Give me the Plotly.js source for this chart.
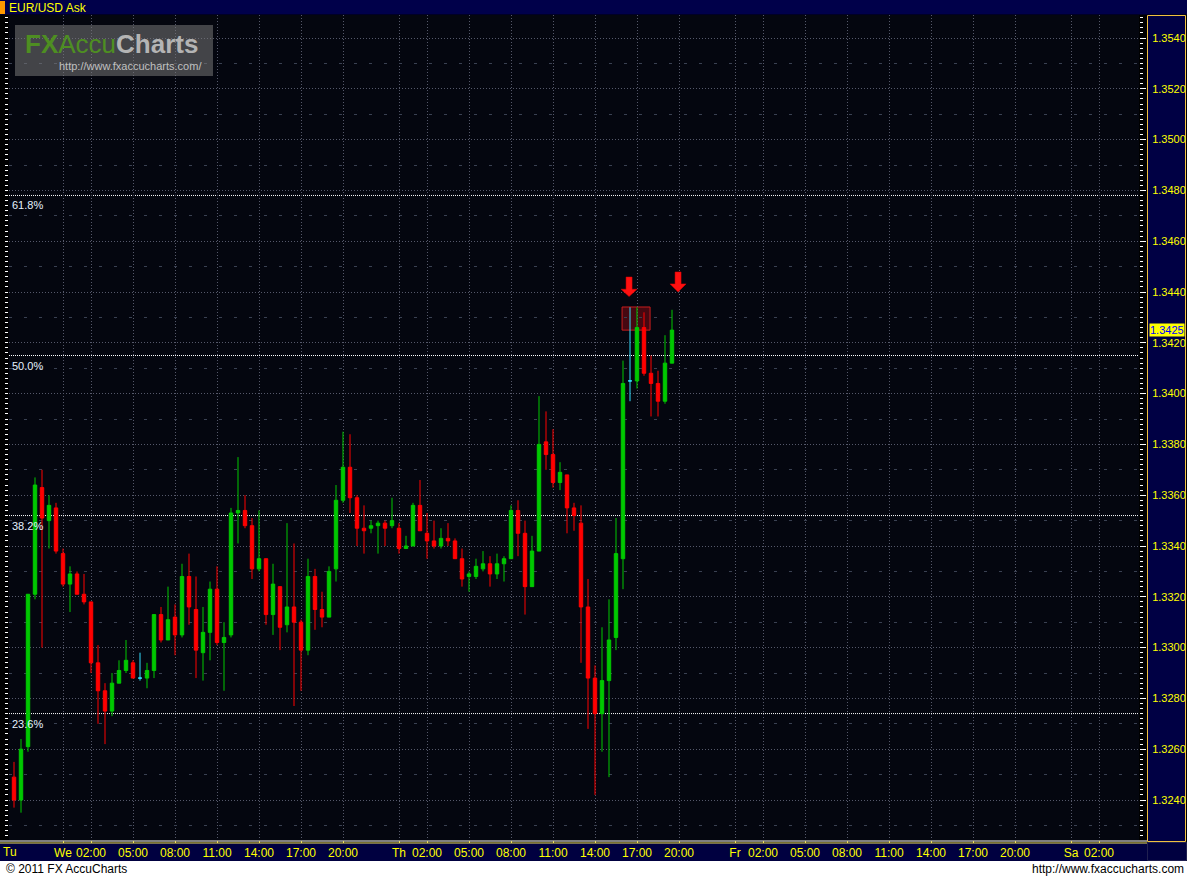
<!DOCTYPE html>
<html><head><meta charset="utf-8">
<script src="https://cdn.plot.ly/plotly-3.0.1.min.js"></script>
<style>html,body{margin:0;padding:0;background:#000;overflow:hidden}#chart{width:1187px;height:878px}</style>
</head><body><div id="chart"></div>
<script>
// ---- data (30-minute EUR/USD Ask candles) ----
const startTime = Date.UTC(2011, 10, 29, 20, 30); // Tu 20:30
const barMinutes = 30;
const opens  = [1.3249,1.3240,1.3261,1.3321,1.3363,1.3350,1.3355,1.3337,1.3325,1.3329,
                1.3321,1.3318,1.3294,1.3283,1.3275,1.3286,1.3291,1.3294,1.3288,1.3288,
                1.3291,1.3313,1.3303,1.3312,1.3305,1.3328,1.3315,1.3298,1.3306,1.3323,
                1.3302,1.3305,1.3353,1.3354,1.3348,1.3331,1.3335,1.3313,1.3324,1.3309,
                1.3316,1.3310,1.3299,1.3328,1.3315,1.3312,1.3331,1.3358,1.3371,1.3359,
                1.3347,1.3347,1.3348,1.3349,1.3348,1.3347,1.3339,1.3340,1.3356,1.3345,
                1.3342,1.3340,1.3343,1.3342,1.3335,1.3328,1.3328,1.3331,1.3333,1.3329,
                1.3333,1.3335,1.3354,1.3345,1.3324,1.3338,1.3381,1.3376,1.3365,1.3368,
                1.3355,1.3349,1.3316,1.3288,1.3274,1.3287,1.3304,1.3335,1.3405,1.3405,
                1.3426,1.3408,1.3404,1.3397,1.3412];
const highs  = [1.3255,1.3264,1.3321,1.3367,1.3370,1.3360,1.3357,1.3339,1.3332,1.3330,
                1.3329,1.3318,1.3301,1.3286,1.3290,1.3295,1.3303,1.3295,1.3298,1.3294,
                1.3313,1.3316,1.3324,1.3317,1.3333,1.3337,1.3328,1.3316,1.3326,1.3332,
                1.3310,1.3355,1.3375,1.3360,1.3351,1.3354,1.3335,1.3333,1.3324,1.3349,
                1.3341,1.3311,1.3335,1.3331,1.3322,1.3332,1.3364,1.3385,1.3384,1.3360,
                1.3356,1.3350,1.3350,1.3350,1.3359,1.3349,1.3344,1.3357,1.3366,1.3353,
                1.3350,1.3347,1.3349,1.3343,1.3339,1.3330,1.3335,1.3338,1.3336,1.3337,
                1.3336,1.3356,1.3358,1.3350,1.3344,1.3399,1.3393,1.3386,1.3373,1.3368,
                1.3357,1.3356,1.3327,1.3293,1.3308,1.3319,1.3351,1.3413,1.3434,1.3434,
                1.3432,1.3415,1.3409,1.3423,1.3433];
const lows   = [1.3237,1.3235,1.3259,1.3319,1.3300,1.3339,1.3337,1.3324,1.3314,1.3321,
                1.3317,1.3290,1.3270,1.3262,1.3273,1.3286,1.3290,1.3288,1.3287,1.3284,
                1.3288,1.3302,1.3303,1.3297,1.3304,1.3309,1.3288,1.3287,1.3295,1.3301,
                1.3283,1.3304,1.3341,1.3347,1.3327,1.3330,1.3309,1.3305,1.3299,1.3306,
                1.3277,1.3283,1.3297,1.3307,1.3308,1.3312,1.3326,1.3357,1.3353,1.3340,
                1.3337,1.3345,1.3337,1.3340,1.3347,1.3337,1.3339,1.3340,1.3346,1.3335,
                1.3339,1.3339,1.3340,1.3335,1.3324,1.3322,1.3327,1.3330,1.3324,1.3327,
                1.3326,1.3335,1.3336,1.3313,1.3324,1.3338,1.3370,1.3363,1.3362,1.3345,
                1.3346,1.3294,1.3268,1.3242,1.3259,1.3249,1.3299,1.3323,1.3397,1.3402,
                1.3407,1.3391,1.3391,1.3396,1.3412];
const closes = [1.3240,1.3260,1.3321,1.3364,1.3351,1.3356,1.3338,1.3325,1.3329,1.3321,
                1.3318,1.3294,1.3283,1.3275,1.3286,1.3291,1.3295,1.3288,1.3288,1.3291,
                1.3313,1.3303,1.3311,1.3305,1.3328,1.3316,1.3299,1.3306,1.3323,1.3302,
                1.3304,1.3353,1.3354,1.3348,1.3331,1.3335,1.3313,1.3325,1.3308,1.3316,
                1.3310,1.3299,1.3328,1.3315,1.3312,1.3330,1.3358,1.3371,1.3359,1.3347,
                1.3346,1.3348,1.3349,1.3347,1.3350,1.3339,1.3340,1.3356,1.3346,1.3342,
                1.3340,1.3343,1.3342,1.3335,1.3327,1.3329,1.3332,1.3333,1.3329,1.3333,
                1.3335,1.3354,1.3345,1.3324,1.3338,1.3380,1.3376,1.3365,1.3369,1.3355,
                1.3352,1.3316,1.3288,1.3274,1.3287,1.3303,1.3337,1.3404,1.3405,1.3426,
                1.3408,1.3404,1.3397,1.3412,1.3425];

// axis labels
const dayLabels = ['We', 'Th', 'Fr', 'Sa'];
const dayDates = ['2011-11-30', '2011-12-01', '2011-12-02', '2011-12-03'];
const hourLabels = ['02:00', '05:00', '08:00', '11:00', '14:00', '17:00', '20:00'];
const firstDayLabel = 'Tu';

// Fibonacci retracement
const fibRatios = [0.236, 0.382, 0.5, 0.618];
const fibLabels = ['23.6%', '38.2%', '50.0%', '61.8%'];
const fibLow = 1.3148, fibHigh = 1.3682;

// annotations on chart
const boxTimes = ['2011-12-01 15:56', '2011-12-01 17:56'];
const boxPrices = [1.34250, 1.34341];
const arrowTimes = ['2011-12-01 16:26', '2011-12-01 19:56'];
const arrowTop = [1.34459, 1.34479];
const arrowHead = [1.34411, 1.34432];
const arrowTip = [1.34382, 1.34400];

const titleText = 'EUR/USD Ask';
const footerLeft = '\u00A9 2011 FX AccuCharts';
const footerRight = 'http://www.fxaccucharts.com';
const logoUrl = 'http://www.fxaccucharts.com/';

// ---- build ----
function fmt(ms) { return new Date(ms).toISOString().slice(0, 19).replace('T', ' '); }
const times = opens.map((_, i) => fmt(startTime + i * barMinutes * 60000));

const idxNorm = [], idxDoji = [];
opens.forEach((o, i) => (o === closes[i] ? idxDoji : idxNorm).push(i));
const pick = (arr, idx) => idx.map(i => arr[i]);

const green = '#00C800', red = '#FF0000', cyan = '#33DDFF';
const traces = [
  {
    type: 'candlestick', x: pick(times, idxNorm),
    open: pick(opens, idxNorm), high: pick(highs, idxNorm), low: pick(lows, idxNorm), close: pick(closes, idxNorm),
    increasing: { line: { color: green, width: 1 }, fillcolor: green },
    decreasing: { line: { color: red, width: 1 }, fillcolor: red },
    whiskerwidth: 0, showlegend: false, hoverinfo: 'skip'
  },
  {
    type: 'candlestick', x: pick(times, idxDoji),
    open: pick(opens, idxDoji), high: pick(highs, idxDoji), low: pick(lows, idxDoji), close: pick(closes, idxDoji),
    increasing: { line: { color: cyan, width: 1 }, fillcolor: cyan },
    decreasing: { line: { color: cyan, width: 1 }, fillcolor: cyan },
    whiskerwidth: 0, showlegend: false, hoverinfo: 'skip'
  }
];

const tickvals = [], ticktext = [];
dayDates.forEach((d, k) => {
  tickvals.push(d + ' 00:00'); ticktext.push(dayLabels[k]);
  hourLabels.forEach(h => { tickvals.push(d + ' ' + h); ticktext.push(h); });
});

// layout geometry (pixels)
const L = 9, R = 1139, T = 15, B = 840, W = 1187, H = 878;
const px = x => (x - L) / (R - L);
const py = y => (B - y) / (B - T);
const navy = '#00004A';

const shapes = [
  // title bar
  { type: 'rect', xref: 'paper', yref: 'paper', x0: px(0), x1: px(W), y0: py(14.5), y1: py(0), fillcolor: navy, line: { width: 0 }, layer: 'below' },
  { type: 'rect', xref: 'paper', yref: 'paper', x0: px(0), x1: px(5), y0: py(14), y1: py(1), fillcolor: '#FF9900', line: { width: 0 }, layer: 'below' },
  // right price panel
  { type: 'rect', xref: 'paper', yref: 'paper', x0: px(1147.5), x1: px(1185.5), y0: py(841.5), y1: py(15.5), fillcolor: '#000044', line: { color: '#F0C040', width: 1 }, layer: 'below' },
  // bottom time panel
  { type: 'rect', xref: 'paper', yref: 'paper', x0: px(0), x1: px(1147), y0: py(861), y1: py(843), fillcolor: '#000040', line: { width: 0 }, layer: 'below' },
  { type: 'line', xref: 'paper', yref: 'paper', x0: px(0), x1: px(1147), y0: py(841), y1: py(841), line: { color: '#FFFFFF', width: 1 }, layer: 'below' },
  { type: 'line', xref: 'paper', yref: 'paper', x0: px(0), x1: px(1147), y0: py(843), y1: py(843), line: { color: '#F0E060', width: 1 }, layer: 'below' },
  { type: 'rect', xref: 'paper', yref: 'paper', x0: px(1147.5), x1: px(1186.5), y0: py(860.5), y1: py(842.5), fillcolor: '#000040', line: { color: '#202050', width: 1 }, layer: 'below' },
  // white footer
  { type: 'rect', xref: 'paper', yref: 'paper', x0: px(0), x1: px(W), y0: py(H), y1: py(861), fillcolor: '#FFFFFF', line: { width: 0 }, layer: 'below' },
  // logo box
  { type: 'rect', xref: 'paper', yref: 'paper', x0: px(15), x1: px(213), y0: py(76), y1: py(25), fillcolor: 'rgba(120,120,120,0.55)', line: { width: 0 }, layer: 'above' },
  // red box around the top
  { type: 'rect', xref: 'x', yref: 'y', x0: boxTimes[0], x1: boxTimes[1], y0: boxPrices[0], y1: boxPrices[1], fillcolor: 'rgba(150,10,20,0.45)', line: { color: '#C81E1E', width: 1 }, layer: 'below' }
];
fibRatios.forEach(f => {
  const p = fibLow + f * (fibHigh - fibLow);
  shapes.push({ type: 'line', xref: 'paper', yref: 'y', x0: 0, x1: 1, y0: p, y1: p, line: { color: '#FFFFFF', width: 1, dash: '1px,1px' }, layer: 'below' });
});
arrowTimes.forEach((t, k) => {
  const a = arrowTop[k], h = arrowHead[k], tp = arrowTip[k];
  shapes.push({
    type: 'path', xref: 'x', yref: 'y', xsizemode: 'pixel', xanchor: t,
    path: `M -3,${a} L 3,${a} L 3,${h} L 8,${h} L 0,${tp} L -8,${h} L -3,${h} Z`,
    fillcolor: '#FF1010', line: { color: '#E00000', width: 0.5 }, layer: 'above'
  });
});

const annotations = [
  { xref: 'paper', yref: 'paper', x: px(7), y: py(7.5), xanchor: 'left', yanchor: 'middle', showarrow: false, text: titleText, font: { family: 'Liberation Sans, Arial, sans-serif', size: 12, color: '#FFFF00' } },
  { xref: 'paper', yref: 'paper', x: px(23), y: py(44), xanchor: 'left', yanchor: 'middle', showarrow: false,
    text: '<b><span style="color:#4E8E22">FX</span></b><span style="color:#4E8E22">Accu</span><b><span style="color:#B4B4B4">Charts</span></b>',
    font: { family: 'Liberation Sans, Arial, sans-serif', size: 26, color: '#B4B4B4' } },
  { xref: 'paper', yref: 'paper', x: px(57), y: py(66), xanchor: 'left', yanchor: 'middle', showarrow: false, text: logoUrl, font: { family: 'Liberation Sans, Arial, sans-serif', size: 11, color: '#C0C0C0' } },
  { xref: 'paper', yref: 'paper', x: px(1), y: py(852), xanchor: 'left', yanchor: 'middle', showarrow: false, text: firstDayLabel, font: { family: 'Liberation Sans, Arial, sans-serif', size: 12, color: '#FFFF00' } },
  { xref: 'paper', yref: 'paper', x: px(4), y: py(869.5), xanchor: 'left', yanchor: 'middle', showarrow: false, text: footerLeft, font: { family: 'Liberation Sans, Arial, sans-serif', size: 12, color: '#000000' } },
  { xref: 'paper', yref: 'paper', x: px(1186), y: py(869.5), xanchor: 'right', yanchor: 'middle', showarrow: false, text: footerRight, font: { family: 'Liberation Sans, Arial, sans-serif', size: 12, color: '#000000' } },
  { xref: 'paper', yref: 'y', x: px(1149), y: closes[closes.length - 1], xanchor: 'left', yanchor: 'middle', showarrow: false, text: closes[closes.length - 1].toFixed(4), bgcolor: '#FFFF00', borderpad: 0, font: { family: 'Liberation Sans, Arial, sans-serif', size: 11, color: '#0000FF' } }
];
fibRatios.forEach((f, k) => {
  const p = fibLow + f * (fibHigh - fibLow);
  annotations.push({ xref: 'paper', yref: 'y', x: px(10), y: p, xanchor: 'left', yanchor: 'top', yshift: -2, showarrow: false, text: fibLabels[k], font: { family: 'Liberation Sans, Arial, sans-serif', size: 11, color: '#E6F2FF' } });
});

const gridCol = '#55586A';
const yRange = [1.322425, 1.354906];
const layout = {
  width: W, height: H,
  margin: { l: L, r: W - R, t: T, b: H - B, pad: 0 },
  paper_bgcolor: '#000000', plot_bgcolor: '#04060F',
  showlegend: false, dragmode: false,
  xaxis: {
    type: 'date', range: ['2011-11-29 20:08:34', '2011-12-03 04:51:26'],
    tickmode: 'array', tickvals, ticktext,
    tickfont: { family: 'Liberation Sans, Arial, sans-serif', size: 12, color: '#FFFF00' },
    showgrid: true, gridcolor: gridCol, griddash: '1px,2px', gridwidth: 1,
    ticks: 'outside', ticklen: 2, tickcolor: '#F0E060',
    showline: false, zeroline: false, rangeslider: { visible: false }, fixedrange: true
  },
  yaxis: {
    side: 'right', range: yRange, tick0: 1.324, dtick: 0.002, tickformat: '.4f',
    tickfont: { family: 'Liberation Sans, Arial, sans-serif', size: 11, color: '#FFFF00' },
    showgrid: true, gridcolor: gridCol, griddash: '1px,2px', gridwidth: 1,
    ticks: 'outside', ticklen: 6, tickcolor: '#FFFFFF', ticklabelstandoff: 4,
    minor: { dtick: 0.0002, ticks: 'outside', ticklen: 3, tickcolor: '#FFFFFF', showgrid: false },
    showline: false, zeroline: false, fixedrange: true
  },
  yaxis2: {
    overlaying: 'y', side: 'left', range: yRange, tick0: 1.323, dtick: 0.002,
    showticklabels: false, showgrid: true, gridcolor: '#3A4152', griddash: '3px,12px', gridwidth: 1,
    ticks: 'outside', ticklen: 3, tickcolor: '#FFFFFF',
    minor: { dtick: 0.0002, ticks: 'outside', ticklen: 3, tickcolor: '#FFFFFF', showgrid: false },
    showline: false, zeroline: false, fixedrange: true
  },
  shapes, annotations
};
// dummy invisible trace to activate yaxis2 grid
traces.push({ type: 'scatter', x: [times[0]], y: [yRange[0]], yaxis: 'y2', mode: 'markers', marker: { opacity: 0 }, hoverinfo: 'skip', showlegend: false });

Plotly.newPlot('chart', traces, layout, { staticPlot: true, displayModeBar: false });
</script></body></html>
